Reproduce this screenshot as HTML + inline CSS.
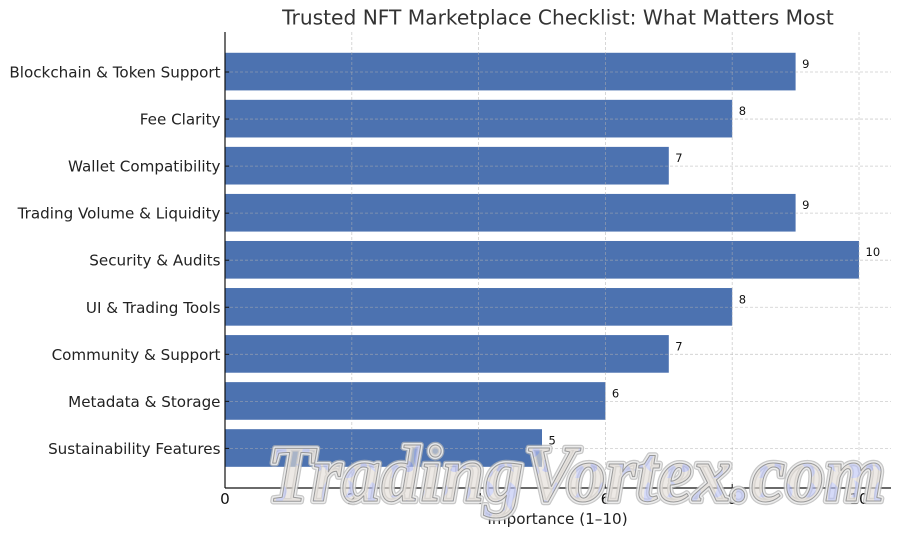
<!DOCTYPE html>
<html lang="en">
<head>
<meta charset="utf-8">
<title>Trusted NFT Marketplace Checklist</title>
<style>
html,body{margin:0;padding:0;background:#fff;width:900px;height:536px;overflow:hidden}
svg{display:block;font-family:"DejaVu Sans","Liberation Sans",sans-serif}
</style>
</head>
<body>
<svg id="chart" width="900" height="536" viewBox="0 0 900 536" xmlns="http://www.w3.org/2000/svg">
<defs>
<pattern id="marble" patternUnits="userSpaceOnUse" width="46" height="40">
<rect width="46" height="40" fill="#e2dcd5"/>
<path d="M4 2 q10 6 5 15 q-6 7 -1 15 q-9 -4 -8 -15 q0 -10 4 -15z" fill="#bcc3f4"/>
<path d="M26 0 q10 5 7 13 q-4 6 -10 4 q6 -7 3 -17z" fill="#bcc3f4"/>
<path d="M20 24 q12 -2 13 8 q-1 7 -10 6 q4 -7 -3 -14z" fill="#bcc3f4"/>
<path d="M38 20 q8 1 7 10 q-5 4 -9 0 q4 -3 2 -10z" fill="#aeb6ee"/>
</pattern>
</defs>
<g id="plot"></g>
<text x="558" y="24.5" text-anchor="middle" font-size="20.2" fill="#333">Trusted NFT Marketplace Checklist: What Matters Most</text>
<text x="557.5" y="524" text-anchor="middle" font-size="15.2" fill="#222">Importance (1–10)</text>
<g font-family="'Liberation Serif',serif" font-style="italic" font-weight="bold" font-size="80">
<text x="267" y="501" textLength="618" lengthAdjust="spacingAndGlyphs" fill="none" stroke="#b5b5b5" stroke-width="6.5" stroke-linejoin="round" opacity="0.75">TradingVortex.com</text>
<text x="267" y="501" textLength="618" lengthAdjust="spacingAndGlyphs" fill="none" stroke="#f6f6f6" stroke-width="4" stroke-linejoin="round" opacity="0.8">TradingVortex.com</text>
<text x="267" y="501" textLength="618" lengthAdjust="spacingAndGlyphs" fill="url(#marble)" fill-opacity="0.62" stroke="#999" stroke-width="1" stroke-linejoin="round">TradingVortex.com</text>
</g>
</svg>
<script>
const categories = ["Blockchain & Token Support","Fee Clarity","Wallet Compatibility","Trading Volume & Liquidity","Security & Audits","UI & Trading Tools","Community & Support","Metadata & Storage","Sustainability Features"];
const importanceValues = [9,8,7,9,10,8,7,6,5];
const xTickLabels = [0,2,4,6,8,10];

const NS = "http://www.w3.org/2000/svg";
const plot = document.getElementById("plot");
const left = 225, right = 891, top_ = 32, bottom = 488;
const xScale = v => left + v * 63.4;
const band = 47.05;
const yScale = i => 72 + i * band;
const barH = band * 0.8;

function mk(tag, attrs, txt) {
  const e = document.createElementNS(NS, tag);
  for (const k in attrs) e.setAttribute(k, attrs[k]);
  if (txt !== undefined) e.textContent = txt;
  plot.appendChild(e);
  return e;
}

categories.forEach((c, i) => {
  const bar = mk("rect", {x: left, y: yScale(i) - barH / 2 - 0.4, width: xScale(importanceValues[i]) - left, height: barH, fill: "#4c72b0"});
  
  
});

xTickLabels.forEach(t => {
  const x = xScale(t);
  if (t > 0) {
    const g = mk("line", {x1: x, x2: x, y1: top_, y2: bottom, stroke: "#b0b0b0", "stroke-width": 0.8, "stroke-dasharray": "3 2", opacity: 0.62});
    
    
  }
  const tick = mk("line", {x1: x, x2: x, y1: bottom - 4, y2: bottom, stroke: "#111", "stroke-width": 1});
  
  
  const lab = mk("text", {x: x, y: 504, "text-anchor": "middle", "font-size": 15.2, fill: "#111"}, t);
  
  
});

categories.forEach((c, i) => {
  const y = yScale(i);
  const g = mk("line", {x1: left, x2: right, y1: y, y2: y, stroke: "#b0b0b0", "stroke-width": 0.8, "stroke-dasharray": "3 2", opacity: 0.62});
  
  
  const tick = mk("line", {x1: left, x2: left + 4, y1: y, y2: y, stroke: "#111", "stroke-width": 1});
  
  
  const lab = mk("text", {x: 220.5, y: y + 5.5, "text-anchor": "end", "font-size": 15.15, fill: "#222"}, c);
  
  
  const val = mk("text", {x: xScale(importanceValues[i]) + 6.5, y: y - 4, "font-size": 11.5, fill: "#111"}, importanceValues[i]);
  
  
});

const ySpine = mk("line", {x1: left, x2: left, y1: top_, y2: bottom, stroke: "#111", "stroke-width": 1.2});


const xSpine = mk("line", {x1: left, x2: right, y1: bottom, y2: bottom, stroke: "#111", "stroke-width": 1.2});


</script>
</body>
</html>
